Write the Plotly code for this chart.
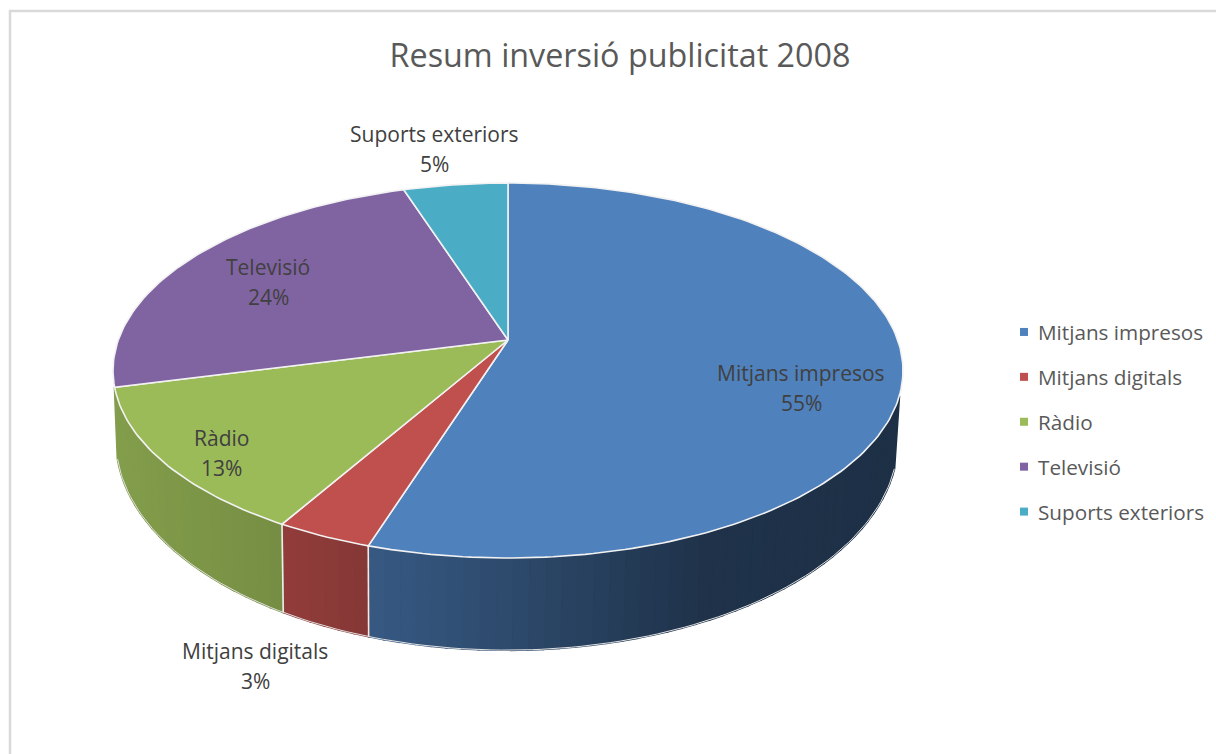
import numpy as np
import plotly.graph_objects as go

TITLE = "Resum inversió publicitat 2008"
categories = ["Mitjans impresos", "Mitjans digitals", "Ràdio", "Televisió", "Suports exteriors"]
values = [54.9, 3.4, 12.7, 24.0, 5.0]
colors = ["#4F81BD", "#C0504D", "#9BBB59", "#8064A2", "#4BACC6"]
label_centres = [(801, 373), (255, 651), (221, 438), (268, 267), (434, 134)]

W, H = 1216, 754
CX, CY, K, AY, BX = 508.0, 340.0, 0.1627, 182.5, 389.7      # tilted top disc
CX2, CY2, AY2, BX2 = 507.0, 406.0, 204.4, 385.8              # lower rim of the drum
TEXT = "#404040"
FONT = "'Open Sans', sans-serif"


def top(t):
    u, v = np.sin(t), np.cos(t)
    d = 1 + K * v
    return CX + BX * u / d, CY - AY * v / d


def low(t):
    u, v = np.sin(t), np.cos(t)
    d = 1 + K * v
    return CX2 + BX2 * u / d, CY2 - AY2 * v / d


def shade(hex_colour, f):
    rgb = [int(hex_colour[i:i + 2], 16) for i in (1, 3, 5)]
    return "rgb({},{},{})".format(*[int(round(c * f)) for c in rgb])


shares = np.array(values, float) / sum(values)
edges = np.concatenate([[0.0], np.cumsum(shares)]) * 2 * np.pi
SIDE_FROM, SIDE_TO = np.radians(107), edges[3]

fig = go.Figure()

# drum sides: narrow strips, darkening from left to right
for i, col in enumerate(colors):
    a, b = max(edges[i], SIDE_FROM), min(edges[i + 1], SIDE_TO)
    if b <= a:
        continue
    n = max(2, int(np.degrees(b - a) / 2.0))
    ts = np.linspace(a, b, n + 1)
    for t0, t1 in zip(ts[:-1], ts[1:]):
        x0, y0 = top(t0)
        x1, y1 = top(t1)
        x2, y2 = low(t1)
        x3, y3 = low(t0)
        xm = (x0 + x1 + x2 + x3) / 4
        f = float(np.interp(xm, [120, 280, 370, 500, 700, 900], [0.84, 0.76, 0.69, 0.58, 0.39, 0.37]))
        c = shade(col, f)
        fig.add_trace(go.Scatter(x=[x0, x1, x2, x3, x0], y=[y0, y1, y2, y3, y0], mode="lines",
                                 fill="toself", fillcolor=c, line=dict(color=c, width=2),
                                 hoverinfo="skip", showlegend=False))

# white seams on the visible drum, lower rim
for e in edges:
    if np.radians(107) < e < np.radians(250):
        x0, y0 = top(e)
        x1, y1 = low(e)
        fig.add_trace(go.Scatter(x=[x0, x1], y=[y0, y1], mode="lines",
                                 line=dict(color="#EDEDED", width=1.6),
                                 hoverinfo="skip", showlegend=False))
rim_t = np.linspace(SIDE_FROM, edges[3], 120)
rx, ry = low(rim_t)
fig.add_trace(go.Scatter(x=rx, y=ry, mode="lines", line=dict(color="#E0E0E0", width=1),
                         hoverinfo="skip", showlegend=False))

# top faces
for i, (name, col) in enumerate(zip(categories, colors)):
    ts = np.linspace(edges[i], edges[i + 1], max(8, int(np.degrees(edges[i + 1] - edges[i]))))
    xs, ys = top(ts)
    fig.add_trace(go.Scatter(x=np.r_[CX, xs, CX], y=np.r_[CY, ys, CY], mode="lines", fill="toself",
                             fillcolor=col, line=dict(color="#F2F2F2", width=1.6),
                             name=name, hovertemplate=f"{name}: {values[i]:.0f}%<extra></extra>",
                             showlegend=False))

# legend entries
for i, (name, col) in enumerate(zip(categories, colors)):
    fig.add_trace(go.Scatter(x=[None], y=[None], mode="markers", name=name, legendgroup=name,
                             marker=dict(symbol="square", size=8, color=col)))

# data labels: name and share on separate lines
for name, v, (lx, ly) in zip(categories, values, label_centres):
    for text, yy in ((name, ly), (f"{v:.0f}%", ly + 29.5)):
        fig.add_annotation(x=lx, y=yy, xref="x", yref="y", text=text, showarrow=False,
                           xanchor="center", yanchor="middle",
                           font=dict(family=FONT, size=21, color=TEXT))

fig.update_layout(
    width=W, height=H, autosize=False,
    margin=dict(l=0, r=0, t=0, b=0),
    paper_bgcolor="white", plot_bgcolor="white",
    title=dict(text=TITLE, x=620 / W, y=1 - 56 / H, xref="paper", yref="paper",
               xanchor="center", yanchor="middle",
               font=dict(family=FONT, size=32.3, color="#595959")),
    xaxis=dict(range=[0, W], visible=False, fixedrange=True),
    yaxis=dict(range=[H, 0], visible=False, fixedrange=True),
    legend=dict(x=1004 / W, y=1 - 312 / H, xanchor="left", yanchor="top",
                font=dict(family=FONT, size=20.7, color="#595959"),
                tracegroupgap=15, bgcolor="rgba(0,0,0,0)",
                itemclick=False, itemdoubleclick=False),
    shapes=[dict(type="rect", xref="x", yref="y", x0=10, y0=11, x1=W + 20, y1=H + 20,
                 line=dict(color="#D9D9D9", width=2.5), layer="below")],
)

POST = """
document.body.style.margin = '0';
document.querySelectorAll('.legendtext').forEach(function (t) { t.setAttribute('x', 34); });
"""
fig.write_html("out.html", config={"displayModeBar": False}, post_script=POST)
